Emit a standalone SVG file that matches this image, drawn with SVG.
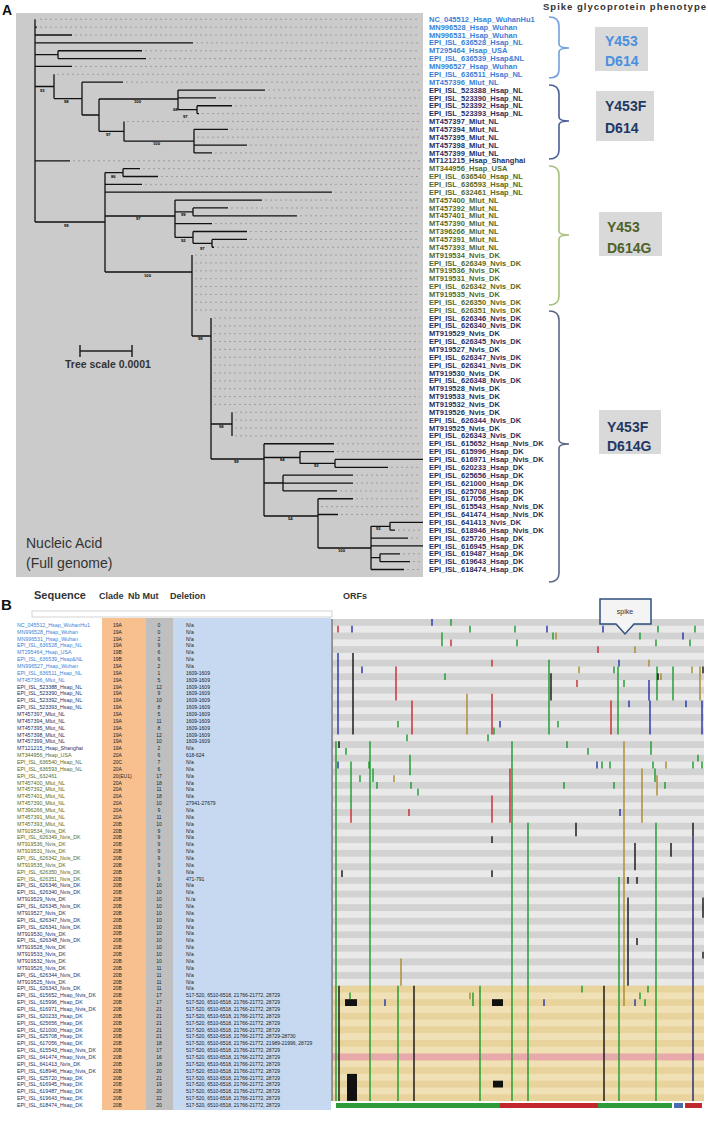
<svg xmlns="http://www.w3.org/2000/svg" width="708" height="1122" viewBox="0 0 708 1122">
<style>
text{font-family:"Liberation Sans",Arial,sans-serif}
.lab{font-size:7.5px;font-weight:bold}
.sn{font-size:5.3px}
.cell{font-size:5px;fill:#222}
.c1{fill:#3c7fd6}.c2{fill:#1f2f62}.c3{fill:#556b1f}
.bs{font-size:4.2px;font-weight:bold;fill:#000}
.hdr{font-weight:bold;fill:#333}
.mk{fill:none;stroke-width:1.4}
.g{stroke:#1a9a2a}.b{stroke:#2233aa}.r{stroke:#c8282e}.k{stroke:#111}.o{stroke:#a88a2a}.n{stroke:#22226e}
.br{fill:none;stroke-width:1.6}
.ph{font-size:14px;font-weight:bold}
</style>
<defs>
<pattern id="st" patternUnits="userSpaceOnUse" x="0" y="619" width="10" height="13.58"><rect width="10" height="6.79" fill="#d2d2d2"/><rect y="6.79" width="10" height="6.79" fill="#e9e9e9"/></pattern>
<pattern id="tan" patternUnits="userSpaceOnUse" x="0" y="985.66" width="10" height="13.58"><rect width="10" height="6.79" fill="#e8d39c"/><rect y="6.79" width="10" height="6.79" fill="#efe0b6"/></pattern>
</defs>
<rect width="708" height="1122" fill="#fff"/>

<!-- Panel A -->
<g id="panelA">
<text x="2" y="15" style="font-size:14px;font-weight:bold" fill="#111">A</text>
<rect x="16" y="13" width="407" height="564" fill="#cbcbcb"/>
<g id="leaders">
<path fill="none" stroke="#9a9a9a" stroke-width="0.9" stroke-dasharray="2 3" d="M40,19.3H420 M40,27.16H420 M75,35.02H420 M196,42.88H420 M145,50.74H420 M149,58.6H420 M75,66.46H420 M57,74.32H420 M126,82.18H420 M268,90.04H420 M219,97.9H420 M235,105.76H420 M202,113.62H420 M127,121.48H420 M231,129.34H420 M197,137.2H420 M250,145.06H420 M215,152.92H420 M73,160.78H420 M143,168.64H420 M161,176.5H420 M145,184.36H420 M335,192.22H420 M265,200.08H420 M231,207.94H420 M300,215.8H420 M215,223.66H420 M250,231.52H420 M250,239.38H420 M217,247.24H420 M195,255.1H420 M195,262.96H420 M195,270.82H420 M195,278.68H420 M195,286.54H420 M195,294.4H420 M195,302.26H420 M195,310.12H420 M214,317.98H420 M214,325.84H420 M214,333.7H420 M214,341.56H420 M214,349.42H420 M214,357.28H420 M214,365.14H420 M214,373H420 M214,380.86H420 M214,388.72H420 M214,396.58H420 M214,404.44H420 M235,412.3H420 M235,420.16H420 M235,428.02H420 M235,435.88H420 M337,443.74H420 M337,451.6H420 M391,467.32H420 M356,475.18H420 M356,483.04H420 M340,490.9H420 M356,498.76H420 M321,506.62H420 M341,514.48H420 M398,530.2H420 M411,538.06H420 M403,553.78H420 M413,561.64H420 M407,569.5H420"/>
</g>
<g id="tree">
<path fill="none" stroke="#111" stroke-width="1.3" d="M35,19.3V222 M35,27.16H37 M35,35.02H72 M35,42.88H193 M35,54.67H58 M58,50.74V58.6 M58,50.74H142 M58,58.6H146 M35,66.46H72 M35,86.5H54 M54,74.32V98.6 M54,98.6H82 M82,82.18V115 M82,82.18H123 M82,115H99 M99,99V131.3 M99,99H178 M99,131.3H124 M178,90.04V109.69 M178,90.04H265 M178,97.9H216 M178,109.69H197 M197,105.76V113.62 M197,105.76H232 M197,113.62H199 M124,121.48V141.13 M124,141.13H194 M194,129.34V152.92 M194,129.34H228 M194,145.06H247 M194,152.92H212 M35,160.78H70 M35,222H105 M105,172.57V272 M105,172.57H123 M123,168.64V176.5 M123,168.64H140 M123,176.5H158 M105,184.36H142 M105,192.22H332 M105,216H175 M105,272H192 M175,200.08V237.4 M175,200.08H262 M175,211.87H193 M193,207.94V215.8 M193,207.94H228 M193,215.8H297 M175,223.66H212 M175,237.4H193 M193,231.52V243.31 M193,231.52H247 M193,243.31H212 M212,239.38V247.24 M212,239.38H247 M212,247.24H214 M192,255.1V336 M192,336H211 M211,318V459 M211,424H232 M232,412.3V435.88 M211,459H264 M264,443.74V516 M264,443.74H334 M264,457.5H300 M300,451.6V463.4 M300,451.6H334 M300,463.4H335 M335,459.46V467.32 M335,459.46H423 M335,467.32H388 M264,483H283 M283,475.18V490.9 M283,475.18H353 M283,483.04H353 M283,490.9H337 M264,516H318 M318,498.76V548 M318,498.76H353 M318,514.48H338 M318,548H371 M371,526.3V569.5 M371,526.3H390 M390,522.34V530.2 M390,522.34H423 M390,530.2H395 M371,538.06H408 M371,545.92H423 M371,557.7H380 M380,553.78V561.64 M380,553.78H400 M380,561.64H410 M371,569.5H404"/>
<text class="bs" x="40" y="92">93</text><text class="bs" x="64" y="103">98</text><text class="bs" x="134" y="103">100</text>
<text class="bs" x="173" y="111">68</text><text class="bs" x="183" y="118">97</text><text class="bs" x="106" y="136">97</text>
<text class="bs" x="153" y="145">100</text><text class="bs" x="111" y="178">86</text><text class="bs" x="64" y="227">99</text>
<text class="bs" x="136" y="220">97</text><text class="bs" x="181" y="216">99</text><text class="bs" x="181" y="242">92</text>
<text class="bs" x="200" y="250">97</text><text class="bs" x="144" y="277">100</text><text class="bs" x="198" y="340">98</text>
<text class="bs" x="219" y="428">98</text><text class="bs" x="234" y="463">99</text><text class="bs" x="280" y="461">84</text>
<text class="bs" x="314" y="467">93</text><text class="bs" x="288" y="520">54</text><text class="bs" x="338" y="552">100</text>
<text class="bs" x="376" y="530">93</text>
</g>
<g id="scalebar">
<path d="M80,351H132 M80,345V357 M132,345V357" stroke="#222" stroke-width="1.5" fill="none"/>
<text x="65" y="368" style="font-size:10.5px;font-weight:bold" fill="#333">Tree scale 0.0001</text>
</g>
<text x="26" y="548" style="font-size:14px" fill="#333">Nucleic Acid</text>
<text x="26" y="568" style="font-size:14px" fill="#333">(Full genome)</text>

<g id="labelsA">
<text class="lab c1" x="429" y="21.9"><tspan x="429">NC_045512_Hsap_WuhanHu1</tspan><tspan x="429" dy="7.86">MN996528_Hsap_Wuhan</tspan><tspan x="429" dy="7.86">MN996531_Hsap_Wuhan</tspan><tspan x="429" dy="7.86">EPI_ISL_636528_Hsap_NL</tspan><tspan x="429" dy="7.86">MT295464_Hsap_USA</tspan><tspan x="429" dy="7.86">EPI_ISL_636539_Hsap&amp;NL</tspan><tspan x="429" dy="7.86">MN996527_Hsap_Wuhan</tspan><tspan x="429" dy="7.86">EPI_ISL_636511_Hsap_NL</tspan><tspan x="429" dy="7.86">MT457396_Mlut_NL</tspan></text>
<text class="lab c2" x="429" y="92.64"><tspan x="429">EPI_ISL_523388_Hsap_NL</tspan><tspan x="429" dy="7.86">EPI_ISL_523390_Hsap_NL</tspan><tspan x="429" dy="7.86">EPI_ISL_523392_Hsap_NL</tspan><tspan x="429" dy="7.86">EPI_ISL_523393_Hsap_NL</tspan><tspan x="429" dy="7.86">MT457397_Mlut_NL</tspan><tspan x="429" dy="7.86">MT457394_Mlut_NL</tspan><tspan x="429" dy="7.86">MT457395_Mlut_NL</tspan><tspan x="429" dy="7.86">MT457398_Mlut_NL</tspan><tspan x="429" dy="7.86">MT457399_Mlut_NL</tspan><tspan x="429" dy="7.86">MT121215_Hsap_Shanghai</tspan></text>
<text class="lab c3" x="429" y="171.24"><tspan x="429">MT344956_Hsap_USA</tspan><tspan x="429" dy="7.86">EPI_ISL_636540_Hsap_NL</tspan><tspan x="429" dy="7.86">EPI_ISL_636593_Hsap_NL</tspan><tspan x="429" dy="7.86">EPI_ISL_632461_Hsap_NL</tspan><tspan x="429" dy="7.86">MT457400_Mlut_NL</tspan><tspan x="429" dy="7.86">MT457392_Mlut_NL</tspan><tspan x="429" dy="7.86">MT457401_Mlut_NL</tspan><tspan x="429" dy="7.86">MT457390_Mlut_NL</tspan><tspan x="429" dy="7.86">MT396266_Mlut_NL</tspan><tspan x="429" dy="7.86">MT457391_Mlut_NL</tspan><tspan x="429" dy="7.86">MT457393_Mlut_NL</tspan><tspan x="429" dy="7.86">MT919534_Nvis_DK</tspan><tspan x="429" dy="7.86">EPI_ISL_626349_Nvis_DK</tspan><tspan x="429" dy="7.86">MT919536_Nvis_DK</tspan><tspan x="429" dy="7.86">MT919531_Nvis_DK</tspan><tspan x="429" dy="7.86">EPI_ISL_626342_Nvis_DK</tspan><tspan x="429" dy="7.86">MT919535_Nvis_DK</tspan><tspan x="429" dy="7.86">EPI_ISL_626350_Nvis_DK</tspan><tspan x="429" dy="7.86">EPI_ISL_626351_Nvis_DK</tspan></text>
<text class="lab c2" x="429" y="320.58"><tspan x="429">EPI_ISL_626346_Nvis_DK</tspan><tspan x="429" dy="7.86">EPI_ISL_626340_Nvis_DK</tspan><tspan x="429" dy="7.86">MT919529_Nvis_DK</tspan><tspan x="429" dy="7.86">EPI_ISL_626345_Nvis_DK</tspan><tspan x="429" dy="7.86">MT919527_Nvis_DK</tspan><tspan x="429" dy="7.86">EPI_ISL_626347_Nvis_DK</tspan><tspan x="429" dy="7.86">EPI_ISL_626341_Nvis_DK</tspan><tspan x="429" dy="7.86">MT919530_Nvis_DK</tspan><tspan x="429" dy="7.86">EPI_ISL_626348_Nvis_DK</tspan><tspan x="429" dy="7.86">MT919528_Nvis_DK</tspan><tspan x="429" dy="7.86">MT919533_Nvis_DK</tspan><tspan x="429" dy="7.86">MT919532_Nvis_DK</tspan><tspan x="429" dy="7.86">MT919526_Nvis_DK</tspan><tspan x="429" dy="7.86">EPI_ISL_626344_Nvis_DK</tspan><tspan x="429" dy="7.86">MT919525_Nvis_DK</tspan><tspan x="429" dy="7.86">EPI_ISL_626343_Nvis_DK</tspan><tspan x="429" dy="7.86">EPI_ISL_615652_Hsap_Nvis_DK</tspan><tspan x="429" dy="7.86">EPI_ISL_615996_Hsap_DK</tspan><tspan x="429" dy="7.86">EPI_ISL_616971_Hsap_Nvis_DK</tspan><tspan x="429" dy="7.86">EPI_ISL_620233_Hsap_DK</tspan><tspan x="429" dy="7.86">EPI_ISL_625656_Hsap_DK</tspan><tspan x="429" dy="7.86">EPI_ISL_621000_Hsap_DK</tspan><tspan x="429" dy="7.86">EPI_ISL_625708_Hsap_DK</tspan><tspan x="429" dy="7.86">EPI_ISL_617056_Hsap_DK</tspan><tspan x="429" dy="7.86">EPI_ISL_615543_Hsap_Nvis_DK</tspan><tspan x="429" dy="7.86">EPI_ISL_641474_Hsap_Nvis_DK</tspan><tspan x="429" dy="7.86">EPI_ISL_641413_Nvis_DK</tspan><tspan x="429" dy="7.86">EPI_ISL_618946_Hsap_Nvis_DK</tspan><tspan x="429" dy="7.86">EPI_ISL_625720_Hsap_DK</tspan><tspan x="429" dy="7.86">EPI_ISL_616945_Hsap_DK</tspan><tspan x="429" dy="7.86">EPI_ISL_619487_Hsap_DK</tspan><tspan x="429" dy="7.86">EPI_ISL_619643_Hsap_DK</tspan><tspan x="429" dy="7.86">EPI_ISL_618474_Hsap_DK</tspan></text>
</g>

<text x="543" y="10" textLength="163" style="font-size:9.5px;font-weight:bold" fill="#333">Spike glycoprotein phenotype</text>
<g id="pheno1">
<path class="br" stroke="#6fa0dc" d="M549,17Q559,17 559,26V44Q559,48 569,48Q559,48 559,52V70Q559,78 549,78"/>
<rect x="595" y="27" width="53" height="44" fill="#d9d9d9"/>
<text class="ph" x="605" y="46" fill="#4a8fe0">Y453</text><text class="ph" x="605" y="66" fill="#4a8fe0">D614</text>
</g>
<g id="pheno2">
<path class="br" stroke="#4a5f9a" d="M549,85Q559,85 559,94V117Q559,121 569,121Q559,121 559,125V150Q559,159 549,159"/>
<rect x="596" y="91" width="58" height="50" fill="#d9d9d9"/>
<text class="ph" x="605" y="111" fill="#1f3864">Y453F</text><text class="ph" x="605" y="133" fill="#1f3864">D614</text>
</g>
<g id="pheno3">
<path class="br" stroke="#a8c07a" d="M549,166Q559,166 559,175V231Q559,235 569,235Q559,235 559,239V296Q559,305 549,305"/>
<rect x="599" y="212" width="63" height="44" fill="#d9d9d9"/>
<text class="ph" x="607" y="232" fill="#4f6228">Y453</text><text class="ph" x="607" y="253" fill="#4f6228">D614G</text>
</g>
<g id="pheno4">
<path class="br" stroke="#5b6787" d="M549,311Q559,311 559,320V440Q559,444 569,444Q559,444 559,448V573Q559,582 549,582"/>
<rect x="599" y="410" width="62" height="44" fill="#d9d9d9"/>
<text class="ph" x="607" y="432" fill="#1f3864">Y453F</text><text class="ph" x="607" y="451" fill="#1f3864">D614G</text>
</g>
</g>

<!-- Panel B -->
<g id="panelB">
<text x="1" y="610" style="font-size:15px;font-weight:bold" fill="#111">B</text>
<text class="hdr" x="34" y="599" style="font-size:11px">Sequence</text>
<text class="hdr" x="99" y="599" style="font-size:9px">Clade</text>
<text class="hdr" x="128" y="599" style="font-size:9px">Nb Mut</text>
<text class="hdr" x="170" y="599" style="font-size:9px">Deletion</text>
<text class="hdr" x="343" y="599" style="font-size:9px">ORFs</text>
<rect x="32" y="611" width="300" height="6" fill="#fff" stroke="#c8c8c8" stroke-width="0.8"/>
<rect x="102" y="618" width="44" height="492" fill="#f9c08f"/>
<rect x="146" y="618" width="27" height="492" fill="#bfbfbf"/>
<rect x="173" y="618" width="158" height="492" fill="#c6d9f0"/>

<g id="seqB">
<text class="sn c1" x="17" y="626.8"><tspan x="17">NC_045512_Hsap_WuhanHu1</tspan><tspan x="17" dy="6.86">MN996528_Hsap_Wuhan</tspan><tspan x="17" dy="6.86">MN996531_Hsap_Wuhan</tspan><tspan x="17" dy="6.86">EPI_ISL_636528_Hsap_NL</tspan><tspan x="17" dy="6.86">MT295464_Hsap_USA</tspan><tspan x="17" dy="6.86">EPI_ISL_636539_Hsap&amp;NL</tspan><tspan x="17" dy="6.86">MN996527_Hsap_Wuhan</tspan><tspan x="17" dy="6.86">EPI_ISL_636511_Hsap_NL</tspan><tspan x="17" dy="6.86">MT457396_Mlut_NL</tspan></text>
<text class="sn c2" x="17" y="688.54"><tspan x="17">EPI_ISL_523388_Hsap_NL</tspan><tspan x="17" dy="6.86">EPI_ISL_523390_Hsap_NL</tspan><tspan x="17" dy="6.86">EPI_ISL_523392_Hsap_NL</tspan><tspan x="17" dy="6.86">EPI_ISL_523393_Hsap_NL</tspan><tspan x="17" dy="6.86">MT457397_Mlut_NL</tspan><tspan x="17" dy="6.86">MT457394_Mlut_NL</tspan><tspan x="17" dy="6.86">MT457395_Mlut_NL</tspan><tspan x="17" dy="6.86">MT457398_Mlut_NL</tspan><tspan x="17" dy="6.86">MT457399_Mlut_NL</tspan><tspan x="17" dy="6.86">MT121215_Hsap_Shanghai</tspan></text>
<text class="sn c3" x="17" y="757.14"><tspan x="17">MT344956_Hsap_USA</tspan><tspan x="17" dy="6.86">EPI_ISL_636540_Hsap_NL</tspan><tspan x="17" dy="6.86">EPI_ISL_636593_Hsap_NL</tspan><tspan x="17" dy="6.86">EPI_ISL_632461</tspan><tspan x="17" dy="6.86">MT457400_Mlut_NL</tspan><tspan x="17" dy="6.86">MT457392_Mlut_NL</tspan><tspan x="17" dy="6.86">MT457401_Mlut_NL</tspan><tspan x="17" dy="6.86">MT457390_Mlut_NL</tspan><tspan x="17" dy="6.86">MT396266_Mlut_NL</tspan><tspan x="17" dy="6.86">MT457391_Mlut_NL</tspan><tspan x="17" dy="6.86">MT457393_Mlut_NL</tspan><tspan x="17" dy="6.86">MT919534_Nvis_DK</tspan><tspan x="17" dy="6.86">EPI_ISL_626349_Nvis_DK</tspan><tspan x="17" dy="6.86">MT919536_Nvis_DK</tspan><tspan x="17" dy="6.86">MT919531_Nvis_DK</tspan><tspan x="17" dy="6.86">EPI_ISL_626342_Nvis_DK</tspan><tspan x="17" dy="6.86">MT919535_Nvis_DK</tspan><tspan x="17" dy="6.86">EPI_ISL_626350_Nvis_DK</tspan><tspan x="17" dy="6.86">EPI_ISL_626351_Nvis_DK</tspan></text>
<text class="sn c2" x="17" y="887.48"><tspan x="17">EPI_ISL_626346_Nvis_DK</tspan><tspan x="17" dy="6.86">EPI_ISL_626340_Nvis_DK</tspan><tspan x="17" dy="6.86">MT919529_Nvis_DK</tspan><tspan x="17" dy="6.86">EPI_ISL_626345_Nvis_DK</tspan><tspan x="17" dy="6.86">MT919527_Nvis_DK</tspan><tspan x="17" dy="6.86">EPI_ISL_626347_Nvis_DK</tspan><tspan x="17" dy="6.86">EPI_ISL_626341_Nvis_DK</tspan><tspan x="17" dy="6.86">MT919530_Nvis_DK</tspan><tspan x="17" dy="6.86">EPI_ISL_626348_Nvis_DK</tspan><tspan x="17" dy="6.86">MT919528_Nvis_DK</tspan><tspan x="17" dy="6.86">MT919533_Nvis_DK</tspan><tspan x="17" dy="6.86">MT919532_Nvis_DK</tspan><tspan x="17" dy="6.86">MT919526_Nvis_DK</tspan><tspan x="17" dy="6.86">EPI_ISL_626344_Nvis_DK</tspan><tspan x="17" dy="6.86">MT919525_Nvis_DK</tspan><tspan x="17" dy="6.86">EPI_ISL_626343_Nvis_DK</tspan><tspan x="17" dy="6.86">EPI_ISL_615652_Hsap_Nvis_DK</tspan><tspan x="17" dy="6.86">EPI_ISL_615996_Hsap_DK</tspan><tspan x="17" dy="6.86">EPI_ISL_616971_Hsap_Nvis_DK</tspan><tspan x="17" dy="6.86">EPI_ISL_620233_Hsap_DK</tspan><tspan x="17" dy="6.86">EPI_ISL_625656_Hsap_DK</tspan><tspan x="17" dy="6.86">EPI_ISL_621000_Hsap_DK</tspan><tspan x="17" dy="6.86">EPI_ISL_625708_Hsap_DK</tspan><tspan x="17" dy="6.86">EPI_ISL_617056_Hsap_DK</tspan><tspan x="17" dy="6.86">EPI_ISL_615543_Hsap_Nvis_DK</tspan><tspan x="17" dy="6.86">EPI_ISL_641474_Hsap_Nvis_DK</tspan><tspan x="17" dy="6.86">EPI_ISL_641413_Nvis_DK</tspan><tspan x="17" dy="6.86">EPI_ISL_618946_Hsap_Nvis_DK</tspan><tspan x="17" dy="6.86">EPI_ISL_625720_Hsap_DK</tspan><tspan x="17" dy="6.86">EPI_ISL_616945_Hsap_DK</tspan><tspan x="17" dy="6.86">EPI_ISL_619487_Hsap_DK</tspan><tspan x="17" dy="6.86">EPI_ISL_619643_Hsap_DK</tspan><tspan x="17" dy="6.86">EPI_ISL_618474_Hsap_DK</tspan></text>
</g>

<g id="cladeCol">
<text class="cell" x="113" y="626.8"><tspan x="113">19A</tspan><tspan x="113" dy="6.86">19A</tspan><tspan x="113" dy="6.86">19A</tspan><tspan x="113" dy="6.86">19A</tspan><tspan x="113" dy="6.86">19B</tspan><tspan x="113" dy="6.86">19B</tspan><tspan x="113" dy="6.86">19A</tspan><tspan x="113" dy="6.86">19A</tspan><tspan x="113" dy="6.86">19A</tspan><tspan x="113" dy="6.86">19A</tspan><tspan x="113" dy="6.86">19A</tspan><tspan x="113" dy="6.86">19A</tspan><tspan x="113" dy="6.86">19A</tspan><tspan x="113" dy="6.86">19A</tspan><tspan x="113" dy="6.86">19A</tspan><tspan x="113" dy="6.86">19A</tspan><tspan x="113" dy="6.86">19A</tspan><tspan x="113" dy="6.86">19A</tspan><tspan x="113" dy="6.86">19A</tspan><tspan x="113" dy="6.86">20A</tspan><tspan x="113" dy="6.86">20C</tspan><tspan x="113" dy="6.86">20A</tspan><tspan x="113" dy="6.86">20(EU1)</tspan><tspan x="113" dy="6.86">20A</tspan><tspan x="113" dy="6.86">20A</tspan><tspan x="113" dy="6.86">20A</tspan><tspan x="113" dy="6.86">20A</tspan><tspan x="113" dy="6.86">20A</tspan><tspan x="113" dy="6.86">20A</tspan><tspan x="113" dy="6.86">20B</tspan><tspan x="113" dy="6.86">20B</tspan><tspan x="113" dy="6.86">20B</tspan><tspan x="113" dy="6.86">20B</tspan><tspan x="113" dy="6.86">20B</tspan><tspan x="113" dy="6.86">20B</tspan><tspan x="113" dy="6.86">20B</tspan><tspan x="113" dy="6.86">20B</tspan><tspan x="113" dy="6.86">20B</tspan><tspan x="113" dy="6.86">20B</tspan><tspan x="113" dy="6.86">20B</tspan><tspan x="113" dy="6.86">20B</tspan><tspan x="113" dy="6.86">20B</tspan><tspan x="113" dy="6.86">20B</tspan><tspan x="113" dy="6.86">20B</tspan><tspan x="113" dy="6.86">20B</tspan><tspan x="113" dy="6.86">20B</tspan><tspan x="113" dy="6.86">20B</tspan><tspan x="113" dy="6.86">20B</tspan><tspan x="113" dy="6.86">20B</tspan><tspan x="113" dy="6.86">20B</tspan><tspan x="113" dy="6.86">20B</tspan><tspan x="113" dy="6.86">20B</tspan><tspan x="113" dy="6.86">20B</tspan><tspan x="113" dy="6.86">20B</tspan><tspan x="113" dy="6.86">20B</tspan><tspan x="113" dy="6.86">20B</tspan><tspan x="113" dy="6.86">20B</tspan><tspan x="113" dy="6.86">20B</tspan><tspan x="113" dy="6.86">20B</tspan><tspan x="113" dy="6.86">20B</tspan><tspan x="113" dy="6.86">20B</tspan><tspan x="113" dy="6.86">20B</tspan><tspan x="113" dy="6.86">20B</tspan><tspan x="113" dy="6.86">20B</tspan><tspan x="113" dy="6.86">20B</tspan><tspan x="113" dy="6.86">20B</tspan><tspan x="113" dy="6.86">20B</tspan><tspan x="113" dy="6.86">20B</tspan><tspan x="113" dy="6.86">20B</tspan><tspan x="113" dy="6.86">20B</tspan><tspan x="113" dy="6.86">20B</tspan></text>
</g>
<g id="nbCol">
<text class="cell" x="159" y="626.8" text-anchor="middle"><tspan x="159">0</tspan><tspan x="159" dy="6.86">0</tspan><tspan x="159" dy="6.86">2</tspan><tspan x="159" dy="6.86">9</tspan><tspan x="159" dy="6.86">6</tspan><tspan x="159" dy="6.86">6</tspan><tspan x="159" dy="6.86">2</tspan><tspan x="159" dy="6.86">1</tspan><tspan x="159" dy="6.86">5</tspan><tspan x="159" dy="6.86">12</tspan><tspan x="159" dy="6.86">9</tspan><tspan x="159" dy="6.86">10</tspan><tspan x="159" dy="6.86">8</tspan><tspan x="159" dy="6.86">5</tspan><tspan x="159" dy="6.86">11</tspan><tspan x="159" dy="6.86">8</tspan><tspan x="159" dy="6.86">12</tspan><tspan x="159" dy="6.86">10</tspan><tspan x="159" dy="6.86">2</tspan><tspan x="159" dy="6.86">6</tspan><tspan x="159" dy="6.86">7</tspan><tspan x="159" dy="6.86">6</tspan><tspan x="159" dy="6.86">17</tspan><tspan x="159" dy="6.86">18</tspan><tspan x="159" dy="6.86">11</tspan><tspan x="159" dy="6.86">18</tspan><tspan x="159" dy="6.86">10</tspan><tspan x="159" dy="6.86">9</tspan><tspan x="159" dy="6.86">11</tspan><tspan x="159" dy="6.86">10</tspan><tspan x="159" dy="6.86">9</tspan><tspan x="159" dy="6.86">9</tspan><tspan x="159" dy="6.86">9</tspan><tspan x="159" dy="6.86">9</tspan><tspan x="159" dy="6.86">9</tspan><tspan x="159" dy="6.86">9</tspan><tspan x="159" dy="6.86">9</tspan><tspan x="159" dy="6.86">9</tspan><tspan x="159" dy="6.86">10</tspan><tspan x="159" dy="6.86">10</tspan><tspan x="159" dy="6.86">10</tspan><tspan x="159" dy="6.86">10</tspan><tspan x="159" dy="6.86">10</tspan><tspan x="159" dy="6.86">10</tspan><tspan x="159" dy="6.86">10</tspan><tspan x="159" dy="6.86">10</tspan><tspan x="159" dy="6.86">10</tspan><tspan x="159" dy="6.86">10</tspan><tspan x="159" dy="6.86">10</tspan><tspan x="159" dy="6.86">10</tspan><tspan x="159" dy="6.86">11</tspan><tspan x="159" dy="6.86">11</tspan><tspan x="159" dy="6.86">11</tspan><tspan x="159" dy="6.86">11</tspan><tspan x="159" dy="6.86">17</tspan><tspan x="159" dy="6.86">17</tspan><tspan x="159" dy="6.86">21</tspan><tspan x="159" dy="6.86">21</tspan><tspan x="159" dy="6.86">21</tspan><tspan x="159" dy="6.86">21</tspan><tspan x="159" dy="6.86">21</tspan><tspan x="159" dy="6.86">18</tspan><tspan x="159" dy="6.86">17</tspan><tspan x="159" dy="6.86">16</tspan><tspan x="159" dy="6.86">18</tspan><tspan x="159" dy="6.86">20</tspan><tspan x="159" dy="6.86">21</tspan><tspan x="159" dy="6.86">19</tspan><tspan x="159" dy="6.86">20</tspan><tspan x="159" dy="6.86">22</tspan><tspan x="159" dy="6.86">20</tspan></text>
</g>
<g id="delCol">
<text class="cell" x="186" y="626.8"><tspan x="186">N/a</tspan><tspan x="186" dy="6.86">N/a</tspan><tspan x="186" dy="6.86">N/a</tspan><tspan x="186" dy="6.86">N/a</tspan><tspan x="186" dy="6.86">N/a</tspan><tspan x="186" dy="6.86">N/a</tspan><tspan x="186" dy="6.86">N/a</tspan><tspan x="186" dy="6.86">1609-1609</tspan><tspan x="186" dy="6.86">1609-1609</tspan><tspan x="186" dy="6.86">1609-1609</tspan><tspan x="186" dy="6.86">1609-1609</tspan><tspan x="186" dy="6.86">1609-1609</tspan><tspan x="186" dy="6.86">1609-1609</tspan><tspan x="186" dy="6.86">1609-1609</tspan><tspan x="186" dy="6.86">1609-1609</tspan><tspan x="186" dy="6.86">1609-1609</tspan><tspan x="186" dy="6.86">1609-1609</tspan><tspan x="186" dy="6.86">1609-1609</tspan><tspan x="186" dy="6.86">N/a</tspan><tspan x="186" dy="6.86">618-624</tspan><tspan x="186" dy="6.86">N/a</tspan><tspan x="186" dy="6.86">N/a</tspan><tspan x="186" dy="6.86">N/a</tspan><tspan x="186" dy="6.86">N/a</tspan><tspan x="186" dy="6.86">N/a</tspan><tspan x="186" dy="6.86">N/a</tspan><tspan x="186" dy="6.86">27941-27679</tspan><tspan x="186" dy="6.86">N/a</tspan><tspan x="186" dy="6.86">N/a</tspan><tspan x="186" dy="6.86">N/a</tspan><tspan x="186" dy="6.86">N/a</tspan><tspan x="186" dy="6.86">N/a</tspan><tspan x="186" dy="6.86">N/a</tspan><tspan x="186" dy="6.86">N/a</tspan><tspan x="186" dy="6.86">N/a</tspan><tspan x="186" dy="6.86">N/a</tspan><tspan x="186" dy="6.86">N/a</tspan><tspan x="186" dy="6.86">471-791</tspan><tspan x="186" dy="6.86">N/a</tspan><tspan x="186" dy="6.86">N/a</tspan><tspan x="186" dy="6.86">N./a</tspan><tspan x="186" dy="6.86">N/a</tspan><tspan x="186" dy="6.86">N/a</tspan><tspan x="186" dy="6.86">N/a</tspan><tspan x="186" dy="6.86">N/a</tspan><tspan x="186" dy="6.86">N/a</tspan><tspan x="186" dy="6.86">N/a</tspan><tspan x="186" dy="6.86">N/a</tspan><tspan x="186" dy="6.86">N/a</tspan><tspan x="186" dy="6.86">N/a</tspan><tspan x="186" dy="6.86">N/a</tspan><tspan x="186" dy="6.86">N/a</tspan><tspan x="186" dy="6.86">N/a</tspan><tspan x="186" dy="6.86">N/a</tspan><tspan x="186" dy="6.86">517-520, 6510-6518, 21766-21772, 28729</tspan><tspan x="186" dy="6.86">517-520, 6510-6518, 21766-21772, 28729</tspan><tspan x="186" dy="6.86">517-520, 6510-6518, 21766-21772, 28729</tspan><tspan x="186" dy="6.86">517-520, 6510-6518, 21766-21772, 28729</tspan><tspan x="186" dy="6.86">517-520, 6510-6518, 21766-21772, 28729</tspan><tspan x="186" dy="6.86">517-520, 6510-6518, 21766-21772, 28729</tspan><tspan x="186" dy="6.86">517-520, 6510-6518, 21766-21772, 28729-28730</tspan><tspan x="186" dy="6.86">517-520, 6510-6518, 21766-21772, 21989-21996, 28729</tspan><tspan x="186" dy="6.86">517-520, 6510-6518, 21766-21772, 28729</tspan><tspan x="186" dy="6.86">517-520, 6510-6518, 21766-21772, 28729</tspan><tspan x="186" dy="6.86">517-520, 6510-6518, 21766-21772, 28729</tspan><tspan x="186" dy="6.86">517-520, 6510-6518, 21766-21772, 28729</tspan><tspan x="186" dy="6.86">517-520, 6510-6518, 21766-21772, 28729</tspan><tspan x="186" dy="6.86">517-520, 6510-6518, 21766-21772, 28729</tspan><tspan x="186" dy="6.86">517-520, 6510-6518, 21766-21772, 28729</tspan><tspan x="186" dy="6.86">517-520, 6510-6518, 21766-21772, 28729</tspan><tspan x="186" dy="6.86">517-520, 6510-6518, 21766-21772, 28729</tspan></text>
</g>

<g id="orfs">
<rect x="332" y="619" width="372" height="482.1" fill="url(#st)"/>
<rect x="332" y="985.66" width="372" height="115.44" fill="url(#tan)"/>
<rect x="332" y="1053.56" width="372" height="6.79" fill="#e7a9a9"/>
<path d="M332,619V1101" stroke="#777" stroke-width="1.5"/>
<path class="mk g" d="M451,619V625.8 M470,625.8V632.6 M658,625.8V632.6 M695,625.8V632.6 M442,632.6V646.2 M553,632.6V639.4 M640,632.6V639.4 M517,639.4V646.2 M656,639.4V646.2 M549,659.7V734.4 M614,666.5V673.3 M618,666.5V734.4 M657,666.5V700.5 M673,666.5V700.5 M445,673.3V680.1 M624,680.1V686.9 M398,720.9V727.6 M494,727.6V734.4 M558,720.9V727.6 M407,734.4V741.2 M488,734.4V741.2 M336,741.2V1101 M370,741.2V1101 M512,741.2V1101 M567,741.2V748 M651,741.2V754.8 M346,748V754.8 M588,748V754.8 M410,754.8V775.2 M698,754.8V761.6 M351,761.6V809.1 M369,761.6V768.4 M602,761.6V768.4 M653,761.6V768.4 M693,761.6V768.4 M702,761.6V768.4 M373,768.4V782 M655,768.4V782 M360,775.2V782 M377,782V788.8 M411,782V788.8 M564,782V788.8 M614,782V788.8 M665,782V788.8 M418,788.8V795.5 M528,822.7V1101 M656,822.7V1101 M619,877V1101 M398,985.7V1101 M480,985.7V1101 M582,985.7V992.5 M648,985.7V992.5 M473,992.5V1006 M350,992.5V999.2 M640,992.5V999.2 M645,999.2V1006"/>
<path class="mk g" stroke-width="3" d="M515,625.8V632.6 M690,639.4V646.2 M610,761.6V768.4"/>
<path class="mk b" d="M432,619V625.8 M352,625.8V632.6 M547,625.8V632.6 M603,625.8V632.6 M683,632.6V639.4 M338,653V734.4 M619,659.7V666.5 M362,666.5V673.3 M649,680.1V700.5 M629,700.5V707.3 M686,700.5V707.3 M650,700.5V734.4 M702,700.5V734.4 M500,720.9V727.6 M338,761.6V768.4 M597,761.6V768.4 M620,809.1V815.9 M385,999.2V1006 M544,999.2V1006 M635,999.2V1006"/>
<path class="mk r" d="M338,625.8V632.6 M451,639.4V646.2 M598,646.2V653 M492,659.7V666.5 M396,666.5V700.5 M577,680.1V686.9 M492,693.7V734.4 M412,700.5V734.4 M611,700.5V734.4 M510,768.4V822.7 M492,795.5V822.7 M409,809.1V815.9 M351,809.1V822.7"/>
<path class="mk o" d="M556,632.6V639.4 M635,646.2V653 M649,659.7V666.5 M579,666.5V673.3 M692,666.5V673.3 M700,666.5V700.5 M661,673.3V680.1 M467,693.7V734.4 M624,741.2V1006 M666,761.6V768.4 M642,768.4V822.7 M657,775.2V795.5 M394,775.2V782 M401,958.5V985.7 M470,992.5V999.2"/>
<path class="mk k" d="M353,653V734.4 M658,673.3V680.1 M703,666.5V673.3 M339,741.2V748 M576,822.7V836.3 M492,836.3V843.1 M635,843.1V870.2 M671,843.1V856.7 M342,870.2V877 M492,870.2V877 M628,877V883.8 M637,877V883.8 M628,897.4V985.7 M637,938.1V944.9 M703,897.4V917.8 M703,951.7V958.5 M339,985.7V1101 M414,985.7V1101 M604,985.7V1101"/>
<path class="mk k" stroke-width="3" d="M551,673.3V700.5 M693,822.7V836.3"/>
<path class="mk n" d="M693,836.3V1101"/>
<rect x="345" y="999.2" width="12" height="6.8" fill="#111"/>
<rect x="492" y="999.2" width="11" height="6.8" fill="#111"/>
<rect x="347" y="1073.9" width="10" height="27" fill="#111"/>
<rect x="493" y="1080.7" width="10" height="6.8" fill="#111"/>
<rect x="336" y="1103" width="164" height="5" fill="#2e9a3a"/>
<rect x="500" y="1103" width="98" height="5" fill="#c0282d"/>
<rect x="598" y="1103" width="74" height="5" fill="#2e9a3a"/>
<rect x="674" y="1103" width="9" height="5" fill="#4a6ab0"/>
<rect x="685" y="1103" width="17" height="5" fill="#c0282d"/>
</g>
<g id="spike">
<path d="M600,599H651V624H634L625,634L616,624H600Z" fill="#f4f4f4" stroke="#2f4f7f" stroke-width="1.5"/>
<text x="625" y="614" text-anchor="middle" style="font-size:7px" fill="#333">spike</text>
</g>
</g>
</svg>
